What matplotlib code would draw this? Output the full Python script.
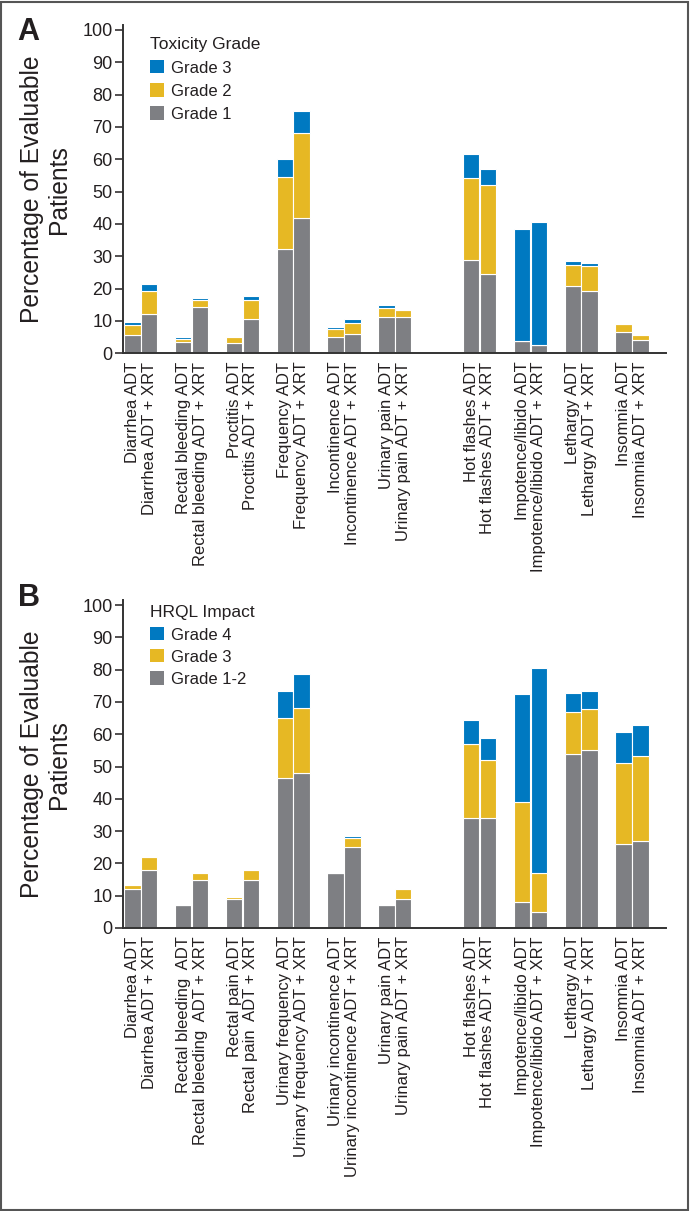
import numpy as np
import matplotlib
matplotlib.use("Agg")
import matplotlib.pyplot as plt
from matplotlib.patches import Patch, Rectangle

plt.rcParams['font.family'] = ['Liberation Sans', 'DejaVu Sans']

# ---------------- data ----------------
arms = ["ADT", "ADT + XRT"]

cats_A = ["Diarrhea", "Rectal bleeding", "Proctitis", "Frequency", "Incontinence",
          "Urinary pain", "Hot flashes", "Impotence/libido", "Lethargy", "Insomnia"]
labels_A = [f"{c} {a}" for c in cats_A for a in arms]

A_adt_g1 = [5.8, 3.5, 3.3, 32.4, 4.9, 11.1, 28.8, 3.9, 20.8, 6.5]
A_adt_g2 = [3.1, 1.0, 1.6, 22.0, 2.6, 2.9, 25.5, 0.0, 6.5, 2.5]
A_adt_g3 = [0.8, 0.6, 0.0, 5.6, 0.7, 0.8, 7.4, 34.5, 1.3, 0.0]
A_xrt_g1 = [12.0, 14.3, 10.5, 41.8, 6.1, 11.3, 24.6, 2.6, 19.3, 4.1]
A_xrt_g2 = [7.3, 2.3, 5.9, 26.2, 3.4, 2.2, 27.5, 0.0, 7.7, 1.7]
A_xrt_g3 = [2.2, 0.5, 1.3, 6.9, 1.0, 0.0, 5.0, 38.1, 1.0, 0.0]

labels_B = ["Diarrhea ADT", "Diarrhea ADT + XRT",
            "Rectal bleeding  ADT", "Rectal bleeding  ADT + XRT",
            "Rectal pain ADT", "Rectal pain  ADT + XRT",
            "Urinary frequency ADT", "Urinary frequency ADT + XRT",
            "Urinary incontinence ADT", "Urinary incontinence ADT + XRT",
            "Urinary pain ADT", "Urinary pain ADT + XRT",
            "Hot flashes ADT", "Hot flashes ADT + XRT",
            "Impotence/libido ADT", "Impotence/libido ADT + XRT",
            "Lethargy ADT", "Lethargy ADT + XRT",
            "Insomnia ADT", "Insomnia ADT + XRT"]

B_adt_g12 = [12.0, 7.0, 9.0, 46.5, 17.0, 7.0, 34.0, 8.0, 54.0, 26.0]
B_adt_g3 = [1.3, 0.0, 0.7, 18.5, 0.0, 0.0, 23.0, 31.0, 13.0, 25.0]
B_adt_g4 = [0.0, 0.0, 0.0, 8.5, 0.0, 0.0, 7.5, 33.5, 5.7, 9.7]
B_xrt_g12 = [18.0, 15.0, 15.0, 48.0, 25.0, 9.0, 34.0, 5.0, 55.0, 27.0]
B_xrt_g3 = [4.0, 2.0, 3.0, 20.0, 3.0, 3.0, 18.0, 12.0, 12.7, 26.4]
B_xrt_g4 = [0.0, 0.0, 0.0, 10.5, 0.5, 0.0, 6.8, 63.5, 5.6, 9.5]

legend_A = ["Grade 3", "Grade 2", "Grade 1"]
legend_B = ["Grade 4", "Grade 3", "Grade 1-2"]
title_A = "Toxicity Grade"
title_B = "HRQL Impact"
ylabel = "Percentage of Evaluable\nPatients"

# ---------------- style ----------------
C_GREY = "#7e7f83"
C_YEL = "#e6b824"
C_BLUE = "#0079c1"
TXT = "#231f20"

W, H = 692, 1211
fig = plt.figure(figsize=(W / 100, H / 100), dpi=100)

n = len(cats_A)
idx = np.arange(n)
pos = idx + np.where(idx >= 6, 0.67, 0.0)
bw = 0.322
off = 0.165


def panel(ax, adt, xrt, labels, leg_labels, leg_title, leg_y, leg_sp):
    cols = [C_GREY, C_YEL, C_BLUE]
    for series, sign in ((adt, -1), (xrt, 1)):
        bottom = np.zeros(n)
        for vals, c in zip(series, cols):
            vals = np.asarray(vals, float)
            ax.bar(pos + sign * off, vals, bw, bottom=bottom, color=c,
                   edgecolor="white", linewidth=0.8)
            bottom += vals
    ax.set_xlim(-0.352, 10.34)
    ax.set_ylim(0, 101.5)
    ax.set_yticks(np.arange(0, 101, 10))
    ticks = np.ravel(np.column_stack([pos - off, pos + off]))
    ax.set_xticks(ticks)
    ax.set_xticklabels(labels, rotation=90, ha="center", va="top",
                       fontsize=12, color=TXT)
    ax.tick_params(axis="x", length=0, pad=6)
    ax.tick_params(axis="y", length=6, width=1.1, pad=1.5, labelsize=13,
                   colors=TXT)
    for s in ("top", "right"):
        ax.spines[s].set_visible(False)
    for s in ("left", "bottom"):
        ax.spines[s].set_linewidth(1.4)
        ax.spines[s].set_color("#333333")
    ax.set_ylabel(ylabel, fontsize=17.7, color=TXT, va="center",
                  linespacing=1.15)
    ax.yaxis.set_label_coords(-0.1427, 0.5)
    handles = [Patch(facecolor=c, edgecolor="none") for c in cols[::-1]]
    leg = ax.legend(handles, leg_labels, title=leg_title, loc="upper left",
                    bbox_to_anchor=(0.05, leg_y), frameon=False, fontsize=12,
                    title_fontsize=12.5, alignment="left", handlelength=0.85,
                    handleheight=0.85, handletextpad=0.4, labelspacing=leg_sp,
                    borderaxespad=0, borderpad=0)
    for t in leg.get_texts():
        t.set_color(TXT)
    leg.get_title().set_color(TXT)


axA = fig.add_axes([123 / W, 1 - 353.3 / H, 543 / W, 328.3 / H])
panel(axA, (A_adt_g1, A_adt_g2, A_adt_g3), (A_xrt_g1, A_xrt_g2, A_xrt_g3),
      labels_A, legend_A, title_A, 0.962, 0.46)

axB = fig.add_axes([123 / W, 1 - 928 / H, 543 / W, 327.8 / H])
panel(axB, (B_adt_g12, B_adt_g3, B_adt_g4), (B_xrt_g12, B_xrt_g3, B_xrt_g4),
      labels_B, legend_B, title_B, 0.984, 0.40)

fig.text(28 / W, 1 - 32 / H, "A", fontsize=22, fontweight="bold", ha="center",
         va="center", color=TXT)
fig.text(29 / W, 1 - 598 / H, "B", fontsize=22, fontweight="bold", ha="center",
         va="center", color=TXT)

fig.add_artist(Rectangle((1.5 / W, 1.5 / H), 686.5 / W, 1207.5 / H,
                         transform=fig.transFigure, fill=False,
                         edgecolor="#555555", linewidth=1.5))

fig.savefig("out.png", dpi=100, facecolor="white")
